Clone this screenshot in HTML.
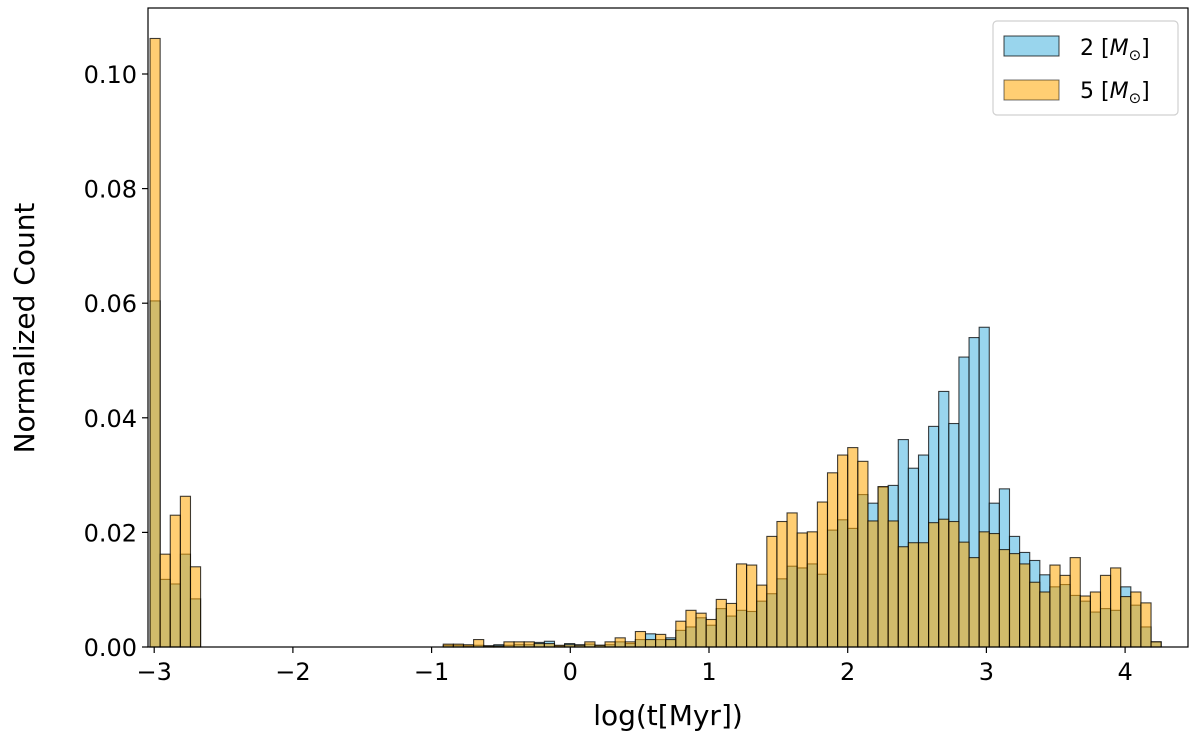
<!DOCTYPE html>
<html><head><meta charset="utf-8"><style>
body{margin:0;background:#fff;}
svg text{font-family:"DejaVu Sans","Liberation Sans",sans-serif;fill:#000;}
</style></head><body>
<svg id="chart" width="1200" height="739" xmlns="http://www.w3.org/2000/svg">
<g id="bars"></g>
<g id="axes"></g>
</svg>
<script>
const binLo = -3.03;
const binHi = 4.26;
const blueVals = [0.0604,0.0118,0.0110,0.0162,0.0084,0,0,0,0,0,0,0,0,0,0,0,0,0,0,0,0,0,0,0,0,0,0,0,0,
0.0003,0.0003,0.0002,0.0003,0.0002,0.0004,0.0003,0.0004,0.0004,0.0008,0.0010,0.0002,0.0006,0.0004,0.0005,0.0003,0.0004,0.0009,0.0006,0.0013,0.0023,0.0013,0.0016,0.0029,0.0035,0.0051,0.0038,
0.0067,0.0054,0.0064,0.0062,0.0080,0.0093,0.0119,0.0141,0.0138,0.0145,0.0127,0.0204,0.0222,0.0207,0.0266,0.0251,0.0279,0.0282,0.0362,0.0312,0.0335,0.0385,0.0446,0.0390,0.0506,0.0540,0.0558,0.0251,0.0276,0.0193,0.0165,0.0151,0.0126,0.0105,0.0109,0.0090,0.0080,0.0061,0.0067,0.0064,0.0105,0.0073,0.0035,0.0009];
const orangeVals = [0.1062,0.0162,0.0230,0.0263,0.0140,0,0,0,0,0,0,0,0,0,0,0,0,0,0,0,0,0,0,0,0,0,0,0,0,
0.0005,0.0005,0.0004,0.0013,0.0002,0.0002,0.0009,0.0009,0.0009,0.0006,0.0006,0.0003,0.0004,0.0003,0.0009,0.0003,0.0009,0.0016,0.0009,0.0027,0.0013,0.0022,0.0013,0.0045,0.0064,0.0059,0.0048,
0.0083,0.0076,0.0145,0.0143,0.0108,0.0193,0.0219,0.0234,0.0199,0.0201,0.0253,0.0304,0.0335,0.0348,0.0324,0.0220,0.0280,0.0220,0.0175,0.0182,0.0182,0.0217,0.0223,0.0219,0.0183,0.0156,0.0201,0.0198,0.0170,0.0163,0.0145,0.0113,0.0096,0.0143,0.0125,0.0156,0.0089,0.0096,0.0125,0.0138,0.0088,0.0096,0.0077,0.0009];
const xTicks = [-3,-2,-1,0,1,2,3,4];
const xTickLabels = ["\u22123","\u22122","\u22121","0","1","2","3","4"];
const yTicks = [0,0.02,0.04,0.06,0.08,0.10];
const yTickLabels = ["0.00","0.02","0.04","0.06","0.08","0.10"];

const L=148,R=1188,T=8,B=647;
const xs = v => 709 + (v-1)*138.7;
const ys = v => B - v*5730;
const NS="http://www.w3.org/2000/svg";
function mk(tag, attrs, parent){const e=document.createElementNS(NS,tag);for(const k in attrs)e.setAttribute(k,attrs[k]);parent.appendChild(e);return e;}
const bars=document.getElementById('bars'), axes=document.getElementById('axes');
const n=blueVals.length, w=(binHi-binLo)/n;
function drawSeries(vals, fill, name){
  vals.forEach((v,i)=>{
    if(v<=0) return;
    const x0=xs(binLo+i*w), x1=xs(binLo+(i+1)*w);
    const r=mk('rect',{x:x0,y:ys(v),width:x1-x0,height:ys(0)-ys(v),fill:fill,stroke:'rgba(0,0,0,0.75)','stroke-width':1.1},bars);
    
    
  });
}
drawSeries(blueVals,'rgba(135,206,235,0.85)','blue');
drawSeries(orangeVals,'rgba(255,165,0,0.55)','orange');

const frame=mk('rect',{x:L,y:T,width:R-L,height:B-T,fill:'none',stroke:'#000','stroke-width':1.2},axes);


xTicks.forEach((t,i)=>{
  const x=xs(t);
  mk('line',{x1:x,x2:x,y1:B,y2:B+6,stroke:'#000','stroke-width':1.2},axes);
  const tx=mk('text',{x:x,y:B+33,'text-anchor':'middle','font-size':24},axes);
  tx.textContent=xTickLabels[i];
  
  
});
yTicks.forEach((t,i)=>{
  const y=ys(t);
  mk('line',{x1:L-6,x2:L,y1:y,y2:y,stroke:'#000','stroke-width':1.2},axes);
  const tx=mk('text',{x:L-11,y:y+9,'text-anchor':'end','font-size':24},axes);
  tx.textContent=yTickLabels[i];
  
  
});
</script>
<svg style="position:absolute;left:0;top:0" width="1200" height="739" xmlns="http://www.w3.org/2000/svg">
<text x="668" y="725" text-anchor="middle" font-size="28" font-family="DejaVu Sans, Liberation Sans, sans-serif">log(t[Myr])</text>
<text transform="translate(34,328) rotate(-90)" text-anchor="middle" font-size="28" font-family="DejaVu Sans, Liberation Sans, sans-serif">Normalized Count</text>
<g>
<rect x="993" y="21" width="185" height="94" rx="4" fill="#fff" fill-opacity="0.8" stroke="#d0d0d0" stroke-width="1.2"/>
<rect x="1004" y="36" width="55" height="20" fill="rgb(153,213,237)" stroke="rgba(0,0,0,0.75)"/>
<text x="1080" y="55" font-size="22" font-family="DejaVu Sans, Liberation Sans, sans-serif">2 [<tspan font-style="italic">M</tspan><tspan font-size="15" dy="5">⊙</tspan><tspan dy="-5">]</tspan></text>
<rect x="1004" y="80" width="55" height="20" fill="rgb(255,206,115)" stroke="rgba(0,0,0,0.55)"/>
<text x="1080" y="98" font-size="22" font-family="DejaVu Sans, Liberation Sans, sans-serif">5 [<tspan font-style="italic">M</tspan><tspan font-size="15" dy="5">⊙</tspan><tspan dy="-5">]</tspan></text>
</g>
</svg>
</body></html>
